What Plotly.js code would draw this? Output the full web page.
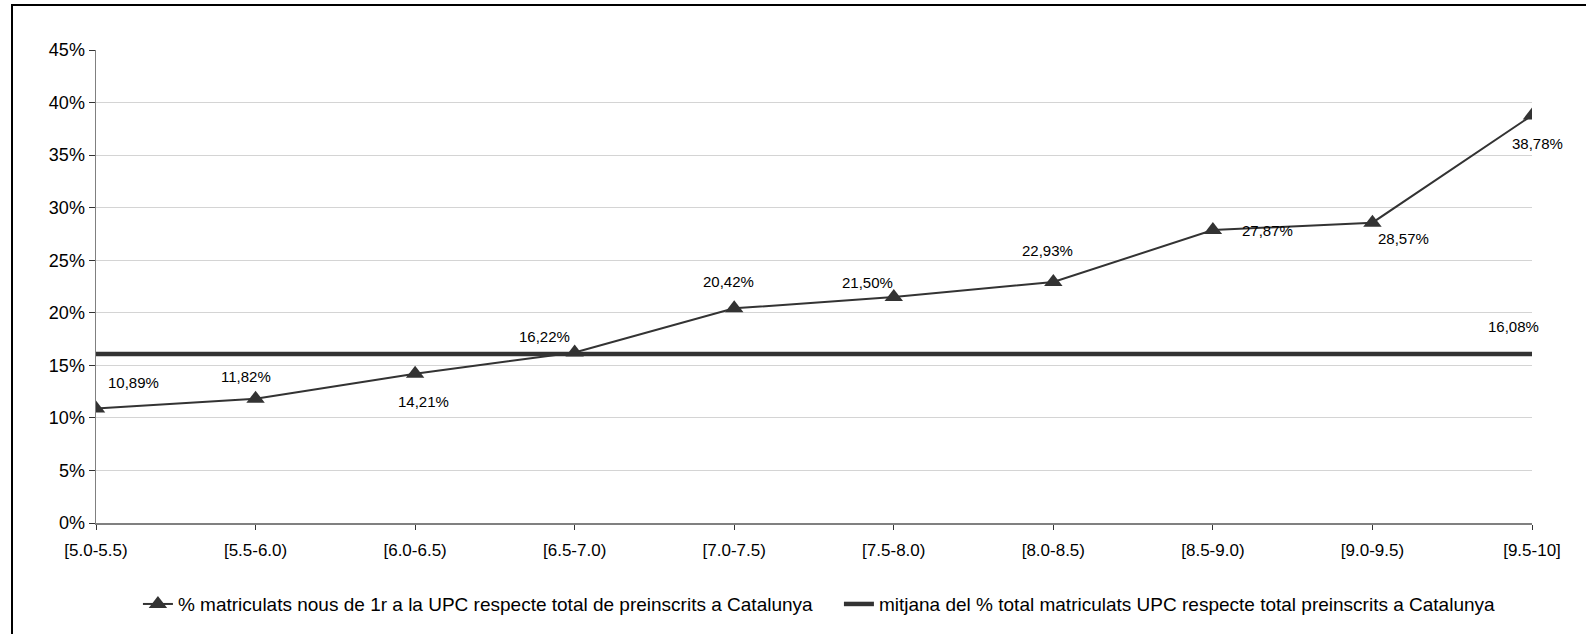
<!DOCTYPE html>
<html>
<head>
<meta charset="utf-8">
<script src="https://cdn.plot.ly/plotly-3.0.1.min.js"></script>
<style>
  html, body { margin: 0; padding: 0; background: #fff; }
  #wrap { position: relative; width: 1586px; height: 634px; overflow: hidden; }
  #chart { position: absolute; left: 0; top: 0; width: 1586px; height: 634px; }
  #frame { position: absolute; left: 11px; top: 4px; width: 1600px; height: 628px;
           border-left: 2px solid #000; border-top: 2px solid #000; border-bottom: 1px solid #c8c8c8;
           pointer-events: none; }
</style>
</head>
<body>
<div id="wrap">
  <div id="chart"></div>
  <div id="frame"></div>
</div>
<script>
// ---- data ----
const categories = ["[5.0-5.5)", "[5.5-6.0)", "[6.0-6.5)", "[6.5-7.0)", "[7.0-7.5)",
                    "[7.5-8.0)", "[8.0-8.5)", "[8.5-9.0)", "[9.0-9.5)", "[9.5-10]"];
const pctMatriculats = [10.89, 11.82, 14.21, 16.22, 20.42, 21.50, 22.93, 27.87, 28.57, 38.78];
const meanValues = [16.08, 16.08, 16.08, 16.08, 16.08, 16.08, 16.08, 16.08, 16.08, 16.08];
const seriesNames = [
  "% matriculats nous de 1r a la UPC respecte total de preinscrits a Catalunya",
  "mitjana del % total matriculats UPC respecte total preinscrits a Catalunya"
];
const yTickValues = [0, 5, 10, 15, 20, 25, 30, 35, 40, 45];

// label offsets in pixels (styling only)
const labelShiftX = [37, -10, 8, -30, -6, -26, -6, 55, 31, 5];
const labelShiftY = [26, 22, -28, 16, 27, 15, 31, 0, -16, -28];
const meanLabelIndex = 9;
const meanLabelShift = [-19, 27];

function fmt(v) { return v.toFixed(2).replace('.', ',') + '%'; }

const font = "Liberation Sans, Arial, sans-serif";
const dark = "#333333";

const traces = [
  {
    x: categories, y: pctMatriculats, type: "scatter", mode: "lines+markers",
    name: seriesNames[0],
    line: { color: dark, width: 2 },
    marker: { symbol: "triangle-up", size: 16, color: dark },
    hoverinfo: "skip"
  },
  {
    x: categories, y: meanValues, type: "scatter", mode: "lines",
    name: seriesNames[1],
    line: { color: dark, width: 4.5 },
    hoverinfo: "skip"
  }
];

const annotations = pctMatriculats.map((v, i) => ({
  x: categories[i], y: v, xref: "x", yref: "y", text: fmt(v),
  showarrow: false, xshift: labelShiftX[i], yshift: labelShiftY[i],
  font: { family: font, size: 15, color: "#000" }
}));
annotations.push({
  x: categories[meanLabelIndex], y: meanValues[meanLabelIndex], xref: "x", yref: "y",
  text: fmt(meanValues[meanLabelIndex]), showarrow: false,
  xshift: meanLabelShift[0], yshift: meanLabelShift[1],
  font: { family: font, size: 15, color: "#000" }
});

const layout = {
  width: 1586, height: 634,
  margin: { l: 96, r: 54, t: 50, b: 110 },
  paper_bgcolor: "#fff", plot_bgcolor: "#fff",
  font: { family: font, size: 16, color: "#000" },
  showlegend: true,
  legend: {
    orientation: "h", x: 0.0292, xanchor: "left", y: -0.169, yanchor: "middle",
    font: { family: font, size: 19, color: "#000" },
    itemwidth: 30, traceorder: "normal", entrywidth: 656
  },
  xaxis: {
    type: "category", range: [0, 9], showgrid: false, zeroline: false,
    showline: true, linecolor: "#808080", linewidth: 1.5,
    ticks: "outside", ticklen: 5, tickcolor: "#333", tickwidth: 1,
    tickfont: { family: font, size: 17, color: "#000" }, ticklabelstandoff: 6
  },
  yaxis: {
    range: [0, 45], tickvals: yTickValues, ticktext: yTickValues.map(v => v + "%"),
    showgrid: true, gridcolor: "#d4d4d4", gridwidth: 1, zeroline: false,
    showline: true, linecolor: "#808080", linewidth: 1.5,
    ticks: "outside", ticklen: 6, tickcolor: "#333", tickwidth: 1,
    tickfont: { family: font, size: 18, color: "#000" }
  },
  annotations: annotations
};

Plotly.newPlot("chart", traces, layout, { staticPlot: true, displayModeBar: false });
</script>
</body>
</html>
